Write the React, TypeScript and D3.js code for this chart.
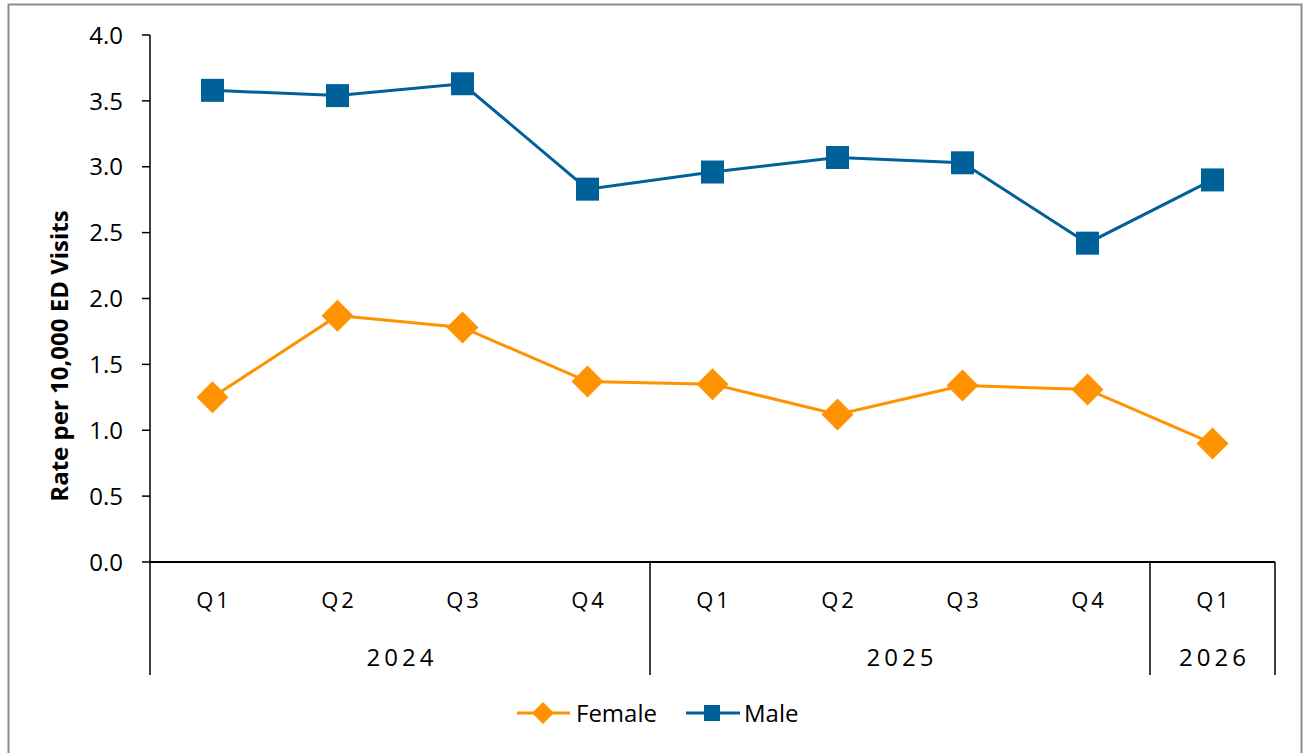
import React from "react";
import * as d3 from "d3";

const quarters = ["Q1", "Q2", "Q3", "Q4", "Q1", "Q2", "Q3", "Q4", "Q1"];
const years = [
  { label: "2024", start: 0, count: 4 },
  { label: "2025", start: 4, count: 4 },
  { label: "2026", start: 8, count: 1 },
];
const femaleValues = [1.25, 1.87, 1.78, 1.37, 1.35, 1.12, 1.34, 1.31, 0.9];
const maleValues = [3.58, 3.54, 3.63, 2.83, 2.96, 3.07, 3.03, 2.42, 2.9];
const yTicks = [0, 0.5, 1, 1.5, 2, 2.5, 3, 3.5, 4];

const FEMALE = "#FF9200";
const MALE = "#006199";
const FONT = "'Open Sans', 'Noto Sans', sans-serif";

export default function App() {
  const W = 1304, H = 753;
  const left = 150, right = 1275, top = 35, bottom = 562;
  const x = d3.scaleBand<number>().domain(d3.range(quarters.length)).range([left, right]);
  const y = d3.scaleLinear().domain([0, 4]).range([bottom, top]);
  const cx = (i: number) => (x(i) as number) + x.bandwidth() / 2;
  const line = d3.line<number>().x((_, i) => cx(i)).y((d) => y(d));
  const diamond = (r: number) => `M0,${-r}L${r},0L0,${r}L${-r},0Z`;
  const sq = 11.5;
  const dr = 16;

  return (
    <svg width={W} height={H} style={{ position: "absolute", left: 0, top: 0 }} fontFamily={FONT}>
      <rect x={0} y={0} width={W} height={H} fill="#fff" />
      <rect x={8.5} y={4.5} width={1293} height={760} fill="none" stroke="#8c8c8c" strokeWidth={2} />
      {/* y axis */}
      <line x1={left} x2={left} y1={top} y2={bottom} stroke="#000" strokeWidth={1.5} />
      {yTicks.map((t) => (
        <g key={t}>
          <line x1={left - 8} x2={left} y1={y(t)} y2={y(t)} stroke="#000" strokeWidth={1.5} />
          <text x={left - 27} y={y(t)} dy="0.36em" textAnchor="end" fontSize={24} fill="#000">
            {t.toFixed(1)}
          </text>
        </g>
      ))}
      <text
        transform={`translate(60,${356}) rotate(-90)`}
        textAnchor="middle"
        dy="0.35em"
        fontSize={24}
        fontWeight="bold"
        fill="#000"
      >
        Rate per 10,000 ED Visits
      </text>
      {/* x axis */}
      <line x1={left} x2={right} y1={bottom} y2={bottom} stroke="#000" strokeWidth={2} />
      {[0, 4, 8, 9].map((i) => {
        const xx = i < quarters.length ? (x(i) as number) : right;
        return <line key={i} x1={xx} x2={xx} y1={bottom} y2={675} stroke="#000" strokeWidth={1.5} />;
      })}
      {quarters.map((q, i) => (
        <text key={i} x={cx(i) + 1.5} y={600} dy="0.36em" textAnchor="middle" fontSize={22} letterSpacing={3} fill="#000">
          {q}
        </text>
      ))}
      {years.map((yr) => {
        const x0 = x(yr.start) as number;
        const x1 = x0 + x.bandwidth() * yr.count;
        return (
          <text key={yr.label} x={(x0 + x1) / 2 + 2} y={657} dy="0.36em" textAnchor="middle" fontSize={24} letterSpacing={4} fill="#000">
            {yr.label}
          </text>
        );
      })}
      {/* series */}
      <path d={line(maleValues) || ""} fill="none" stroke={MALE} strokeWidth={3} />
      {maleValues.map((v, i) => (
        <rect key={i} x={cx(i) - sq} y={y(v) - sq} width={sq * 2} height={sq * 2} fill={MALE} />
      ))}
      <path d={line(femaleValues) || ""} fill="none" stroke={FEMALE} strokeWidth={3} />
      {femaleValues.map((v, i) => (
        <path key={i} d={diamond(dr)} transform={`translate(${cx(i)},${y(v)})`} fill={FEMALE} />
      ))}
      {/* legend */}
      <g>
        <line x1={517} x2={570} y1={713} y2={713} stroke={FEMALE} strokeWidth={3} />
        <path d={diamond(11)} transform="translate(543,713)" fill={FEMALE} />
        <text x={576} y={713} dy="0.36em" fontSize={24} fill="#000">Female</text>
        <line x1={686} x2={740} y1={713} y2={713} stroke={MALE} strokeWidth={3} />
        <rect x={712 - 8} y={713 - 8} width={16} height={16} fill={MALE} />
        <text x={744} y={713} dy="0.36em" fontSize={24} fill="#000">Male</text>
      </g>
    </svg>
  );
}
